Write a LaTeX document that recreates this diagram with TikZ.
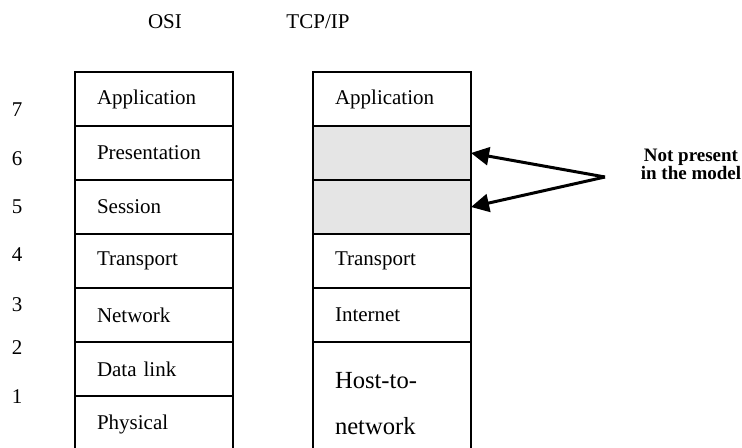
\documentclass[tikz,border=0pt]{standalone}
\usepackage{fontspec}
\setmainfont{Liberation Serif}
\usetikzlibrary{positioning, arrows.meta}
\tikzstyle{layer} = [rectangle, draw=black, line width=1.3pt, outer sep=0pt, text width=57pt, inner xsep=11pt, minimum height=27pt, align=left, font=\fontsize{10.5}{12}\selectfont]
\tikzstyle{absent} = [layer, fill=black!10]
\tikzstyle{head} = [font=\fontsize{10.5}{12}\selectfont]
\tikzstyle{arrow} = [line width=1.5pt, -{Triangle[length=9pt, width=9pt]}]

\begin{document}
\begin{tikzpicture}[x=0.5pt, y=-0.5pt]
   \clip (0,0) rectangle (742,448);
   \node (osi) [head] at (165,22) {OSI};
   \node (tcp) [head] at (318,22) {TCP/IP};
   % layer numbers
   \foreach \n/\y in {7/110, 6/159, 5/207, 4/255, 3/305, 2/348, 1/397}
      \node (n\n) [head] at (17,\y) {\n};
   % OSI stack
   \node (o7) [layer, anchor=north] at (154,72) {Application};
   \node (o6) [layer, below=0pt of o7] {Presentation};
   \node (o5) [layer, below=0pt of o6] {Session};
   \node (o4) [layer, below=0pt of o5] {Transport};
   \node (o3) [layer, below=0pt of o4] {Network};
   \node (o2) [layer, below=0pt of o3] {Data link};
   \node (o1) [layer, below=0pt of o2, minimum height=28pt] {Physical};
   % TCP/IP stack
   \node (t7) [layer, anchor=north] at (392,72) {Application};
   \node (t6) [absent, below=0pt of t7] {};
   \node (t5) [absent, below=0pt of t6] {};
   \node (t4) [layer, below=0pt of t5] {Transport};
   \node (t3) [layer, below=0pt of t4] {Internet};
   \node (t1) [layer, below=0pt of t3, minimum height=62pt, font=\fontsize{12.3}{23}\selectfont] {Host-to-\\network};
   % missing layers
   \coordinate (apex) at (605,177);
   \draw [arrow] (apex) -- (t6.east);
   \draw [arrow] (apex) -- (t5.east);
   \node (note) [align=center, font=\bfseries\fontsize{9.5}{9}\selectfont] at (691,164) {Not present\\in the model};
\end{tikzpicture}
\end{document}
